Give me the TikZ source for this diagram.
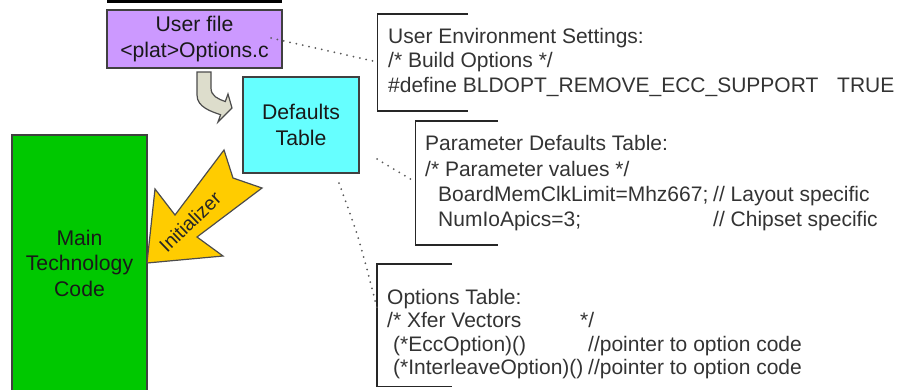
\documentclass[tikz,border=0pt]{standalone}
\usepackage{fontspec}
\setmainfont{Liberation Sans}
\definecolor{purpleF}{HTML}{CC99FF}
\definecolor{cyanF}{HTML}{66FFFF}
\definecolor{greenF}{HTML}{00C800}
\definecolor{yellowF}{HTML}{FFCC00}
\definecolor{grayF}{HTML}{DDDDCC}
\newcommand\lbfont{\fontsize{21.2}{25.5}\selectfont}
\newcommand\codefont{\fontsize{21}{24.5}\selectfont}
\begin{document}
\begin{tikzpicture}[x=1pt,y=-1pt,
  box/.style={draw=black!75, line width=1.4pt, inner sep=0pt, align=center, font=\lbfont, text=black!90},
  lbl/.style={inner sep=0pt, align=center, font=\lbfont, text=black!90},
  code/.style={anchor=base west, inner sep=0pt, font=\codefont, text=black!80},
  brk/.style={draw=black!85, line width=1.5pt},
  dots/.style={draw=black!65, line width=2pt, line cap=round, dash pattern=on 0pt off 6.5pt},
  yarrow/.style={fill=yellowF, draw=black!70, line width=1.2pt, line join=miter},
  garrow/.style={fill=grayF, draw=black!70, line width=1.2pt}]
\useasboundingbox (0,0) rectangle (904,389);
% top black band
\fill[black] (107,0) rectangle (282,2.5);
% boxes
\node[box, fill=purpleF, minimum width=175pt, minimum height=58pt] (user) at (194.5,39) {User file\\<plat>Options.c};
\node[box, fill=cyanF, minimum width=116pt, minimum height=96pt] (defaults) at (301,125) {Defaults\\Table};
\node[box, fill=greenF, minimum width=135pt, minimum height=262pt] (main) at (79.5,266) {};
\node[lbl] (mainlbl) at (79.5,263) {Main\\Technology\\Code};
% curved gray arrow
\filldraw[garrow] (197,72) -- (197,95) .. controls (197,107) and (211,111.5) .. (220.6,114.7)
  -- (218,122) -- (232,108) -- (228,94) -- (225.3,101.5)
  .. controls (218,99) and (211,96) .. (211,88) -- (211,72) -- cycle;
% yellow initializer arrow
\filldraw[yarrow] (147,263) -- (155,189) -- (175,215) -- (224,150) -- (233,178) -- (262,188)
  -- (197,237) -- (223,256) -- cycle;
\node[rotate=44, inner sep=0pt, font=\fontsize{19.5}{22}\selectfont, text=black!85] (init) at (190,222) {Initializer};
% bracket boxes
\draw[brk] (468,14) -- (377.5,14) -- (377.5,111) -- (468,111);
\draw[brk] (498,121) -- (415.5,121) -- (415.5,245) -- (498,245);
\draw[brk] (452,264) -- (377,264) -- (377,386.5) -- (452,386.5);
\node[code] (e1) at (388,43) {User Environment Settings:};
\node[code] (e2) at (388,67.5) {/* Build Options */};
\node[code] (e3) at (388,92) {\#define BLDOPT\_REMOVE\_ECC\_SUPPORT};
\node[code] (e3b) at (837,92) {TRUE};
\node[code] (p1) at (425,150.5) {Parameter Defaults Table:};
\node[code] (p2) at (425,176) {/* Parameter values */};
\node[code] (p3) at (438,201.5) {BoardMemClkLimit=Mhz667;};
\node[code] (p3b) at (713,201.5) {// Layout specific};
\node[code] (p4) at (438,226.5) {NumIoApics=3;};
\node[code] (p4b) at (713,226.5) {// Chipset specific};
\node[code] (o1) at (387,304) {Options Table:};
\node[code] (o2) at (387,327.5) {/* Xfer Vectors};
\node[code] (o2b) at (580,327.5) {*/};
\node[code] (o3) at (393,351) {(*EccOption)()};
\node[code] (o3b) at (588,351) {//pointer to option code};
\node[code] (o4) at (393,374.5) {(*InterleaveOption)()};
\node[code] (o4b) at (588,374.5) {//pointer to option code};
% dotted callouts
\coordinate (c1a) at (271,38);
\coordinate (c1b) at (377.5,62);
\coordinate (c2a) at (377,159);
\coordinate (c2b) at (415.5,182);
\coordinate (c3a) at (339,183);
\coordinate (c3b) at (377,308);
\draw[dots] (c1a) -- (c1b);
\draw[dots] (c2a) -- (c2b);
\draw[dots] (c3a) .. controls (359,238) .. (c3b);
\end{tikzpicture}
\end{document}
